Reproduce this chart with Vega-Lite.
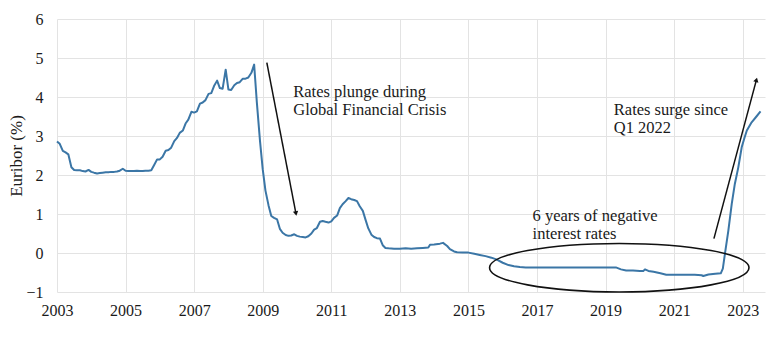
{
  "$schema": "https://vega.github.io/schema/vega-lite/v6.json",
  "width": 708,
  "height": 273,
  "autosize": "none",
  "padding": {"left": 57, "top": 19, "right": 15, "bottom": 62},
  "background": "white",
  "config": {
    "font": "Liberation Serif",
    "view": {"stroke": null},
    "axis": {
      "labelFont": "Liberation Serif",
      "titleFont": "Liberation Serif",
      "labelFontSize": 16,
      "titleFontSize": 17,
      "titleFontWeight": "normal",
      "labelColor": "#1a1a1a",
      "titleColor": "#1a1a1a",
      "gridColor": "#e3e3e3",
      "gridWidth": 1,
      "domain": false,
      "ticks": false,
      "labelFlush": false
    }
  },
  "datasets": {
    "euribor": [
      {"t": 2003.00, "v": 2.86}, {"t": 2003.08, "v": 2.80}, {"t": 2003.17, "v": 2.62}, {"t": 2003.25, "v": 2.58},
      {"t": 2003.33, "v": 2.53}, {"t": 2003.42, "v": 2.20}, {"t": 2003.50, "v": 2.13}, {"t": 2003.58, "v": 2.12},
      {"t": 2003.67, "v": 2.12}, {"t": 2003.75, "v": 2.10}, {"t": 2003.83, "v": 2.09}, {"t": 2003.92, "v": 2.13},
      {"t": 2004.00, "v": 2.08}, {"t": 2004.08, "v": 2.06}, {"t": 2004.17, "v": 2.04}, {"t": 2004.25, "v": 2.05},
      {"t": 2004.33, "v": 2.06}, {"t": 2004.42, "v": 2.07}, {"t": 2004.50, "v": 2.07}, {"t": 2004.58, "v": 2.08},
      {"t": 2004.67, "v": 2.08}, {"t": 2004.75, "v": 2.09}, {"t": 2004.83, "v": 2.11}, {"t": 2004.92, "v": 2.16},
      {"t": 2005.00, "v": 2.11}, {"t": 2005.08, "v": 2.10}, {"t": 2005.17, "v": 2.10}, {"t": 2005.25, "v": 2.10},
      {"t": 2005.33, "v": 2.11}, {"t": 2005.42, "v": 2.10}, {"t": 2005.50, "v": 2.10}, {"t": 2005.58, "v": 2.11},
      {"t": 2005.67, "v": 2.11}, {"t": 2005.75, "v": 2.12}, {"t": 2005.83, "v": 2.25}, {"t": 2005.92, "v": 2.40},
      {"t": 2006.00, "v": 2.40}, {"t": 2006.08, "v": 2.47}, {"t": 2006.17, "v": 2.62}, {"t": 2006.25, "v": 2.64},
      {"t": 2006.33, "v": 2.70}, {"t": 2006.42, "v": 2.87}, {"t": 2006.50, "v": 2.95}, {"t": 2006.58, "v": 3.08},
      {"t": 2006.67, "v": 3.14}, {"t": 2006.75, "v": 3.32}, {"t": 2006.83, "v": 3.42}, {"t": 2006.92, "v": 3.62},
      {"t": 2007.00, "v": 3.60}, {"t": 2007.08, "v": 3.63}, {"t": 2007.17, "v": 3.83}, {"t": 2007.25, "v": 3.86},
      {"t": 2007.33, "v": 3.92}, {"t": 2007.42, "v": 4.08}, {"t": 2007.50, "v": 4.10}, {"t": 2007.58, "v": 4.28},
      {"t": 2007.67, "v": 4.42}, {"t": 2007.75, "v": 4.23}, {"t": 2007.83, "v": 4.21}, {"t": 2007.92, "v": 4.70},
      {"t": 2008.00, "v": 4.19}, {"t": 2008.08, "v": 4.18}, {"t": 2008.17, "v": 4.30}, {"t": 2008.25, "v": 4.36},
      {"t": 2008.33, "v": 4.38}, {"t": 2008.42, "v": 4.47}, {"t": 2008.50, "v": 4.47}, {"t": 2008.58, "v": 4.50},
      {"t": 2008.67, "v": 4.62}, {"t": 2008.75, "v": 4.83}, {"t": 2008.83, "v": 3.85}, {"t": 2008.92, "v": 2.88},
      {"t": 2009.00, "v": 2.15}, {"t": 2009.08, "v": 1.60}, {"t": 2009.17, "v": 1.22}, {"t": 2009.25, "v": 0.95},
      {"t": 2009.33, "v": 0.90}, {"t": 2009.42, "v": 0.86}, {"t": 2009.50, "v": 0.62}, {"t": 2009.58, "v": 0.52},
      {"t": 2009.67, "v": 0.46}, {"t": 2009.75, "v": 0.44}, {"t": 2009.83, "v": 0.45}, {"t": 2009.92, "v": 0.48},
      {"t": 2010.00, "v": 0.44}, {"t": 2010.08, "v": 0.42}, {"t": 2010.17, "v": 0.41}, {"t": 2010.25, "v": 0.40},
      {"t": 2010.33, "v": 0.43}, {"t": 2010.42, "v": 0.50}, {"t": 2010.50, "v": 0.60}, {"t": 2010.58, "v": 0.64},
      {"t": 2010.67, "v": 0.80}, {"t": 2010.75, "v": 0.82}, {"t": 2010.83, "v": 0.80}, {"t": 2010.92, "v": 0.78},
      {"t": 2011.00, "v": 0.81}, {"t": 2011.08, "v": 0.90}, {"t": 2011.17, "v": 0.96}, {"t": 2011.25, "v": 1.15},
      {"t": 2011.33, "v": 1.25}, {"t": 2011.42, "v": 1.33}, {"t": 2011.50, "v": 1.41}, {"t": 2011.58, "v": 1.38},
      {"t": 2011.67, "v": 1.36}, {"t": 2011.75, "v": 1.33}, {"t": 2011.83, "v": 1.20}, {"t": 2011.92, "v": 1.08},
      {"t": 2012.00, "v": 0.85}, {"t": 2012.08, "v": 0.63}, {"t": 2012.17, "v": 0.47}, {"t": 2012.25, "v": 0.41},
      {"t": 2012.33, "v": 0.38}, {"t": 2012.42, "v": 0.37}, {"t": 2012.50, "v": 0.20}, {"t": 2012.58, "v": 0.13},
      {"t": 2012.67, "v": 0.12}, {"t": 2012.83, "v": 0.11}, {"t": 2013.00, "v": 0.11}, {"t": 2013.17, "v": 0.12},
      {"t": 2013.33, "v": 0.11}, {"t": 2013.50, "v": 0.12}, {"t": 2013.67, "v": 0.13}, {"t": 2013.83, "v": 0.14},
      {"t": 2013.88, "v": 0.21}, {"t": 2014.00, "v": 0.22}, {"t": 2014.17, "v": 0.24}, {"t": 2014.26, "v": 0.26},
      {"t": 2014.38, "v": 0.18}, {"t": 2014.46, "v": 0.10}, {"t": 2014.58, "v": 0.04}, {"t": 2014.67, "v": 0.02},
      {"t": 2014.83, "v": 0.01}, {"t": 2015.00, "v": 0.01}, {"t": 2015.17, "v": -0.02}, {"t": 2015.33, "v": -0.05},
      {"t": 2015.50, "v": -0.08}, {"t": 2015.67, "v": -0.12}, {"t": 2015.83, "v": -0.17}, {"t": 2016.00, "v": -0.25},
      {"t": 2016.17, "v": -0.31}, {"t": 2016.33, "v": -0.34}, {"t": 2016.50, "v": -0.36}, {"t": 2016.67, "v": -0.37},
      {"t": 2017.00, "v": -0.37}, {"t": 2017.50, "v": -0.37}, {"t": 2018.00, "v": -0.37}, {"t": 2018.50, "v": -0.37},
      {"t": 2019.00, "v": -0.37}, {"t": 2019.30, "v": -0.37}, {"t": 2019.45, "v": -0.42}, {"t": 2019.60, "v": -0.45},
      {"t": 2019.80, "v": -0.45}, {"t": 2020.00, "v": -0.46}, {"t": 2020.10, "v": -0.46}, {"t": 2020.15, "v": -0.42},
      {"t": 2020.25, "v": -0.46}, {"t": 2020.40, "v": -0.48}, {"t": 2020.60, "v": -0.52}, {"t": 2020.77, "v": -0.56},
      {"t": 2021.00, "v": -0.56}, {"t": 2021.30, "v": -0.56}, {"t": 2021.60, "v": -0.56}, {"t": 2021.80, "v": -0.57},
      {"t": 2021.85, "v": -0.59}, {"t": 2022.00, "v": -0.55}, {"t": 2022.20, "v": -0.53}, {"t": 2022.36, "v": -0.52},
      {"t": 2022.42, "v": -0.40}, {"t": 2022.48, "v": -0.03}, {"t": 2022.58, "v": 0.57}, {"t": 2022.68, "v": 1.26},
      {"t": 2022.77, "v": 1.77}, {"t": 2022.87, "v": 2.19}, {"t": 2022.97, "v": 2.71}, {"t": 2023.05, "v": 2.95},
      {"t": 2023.12, "v": 3.14}, {"t": 2023.26, "v": 3.35}, {"t": 2023.40, "v": 3.50}, {"t": 2023.52, "v": 3.63}
    ],
    "arrows": [
      {"id": "gfc", "t": 2009.12, "v": 4.88, "t2": 2009.97, "v2": 1.01},
      {"id": "surge", "t": 2022.16, "v": 0.37, "t2": 2023.40, "v2": 4.44}
    ],
    "labels": [
      {"t": 2009.89, "v": 4.01, "label": ["Rates plunge during", "Global Financial Crisis"]},
      {"t": 2019.24, "v": 3.54, "label": ["Rates surge since", "Q1 2022"]},
      {"t": 2016.87, "v": 0.83, "label": ["6 years of negative", "interest rates"]}
    ],
    "ellipse": [
      {"t": 2019.40, "v": -0.377}
    ]
  },
  "encoding": {
    "x": {
      "field": "t",
      "type": "quantitative",
      "scale": {"domain": [2003, 2023.65], "nice": false, "zero": false},
      "axis": {
        "title": null,
        "values": [2003, 2005, 2007, 2009, 2011, 2013, 2015, 2017, 2019, 2021, 2023],
        "format": "d",
        "labelPadding": 10,
        "grid": true
      }
    },
    "y": {
      "field": "v",
      "type": "quantitative",
      "scale": {"domain": [-1, 6], "nice": false, "zero": false},
      "axis": {
        "title": "Euribor (%)",
        "values": [-1, 0, 1, 2, 3, 4, 5, 6],
        "format": "d",
        "labelPadding": 14,
        "titlePadding": 0,
        "grid": true
      }
    }
  },
  "layer": [
    {
      "data": {"name": "euribor"},
      "mark": {"type": "line", "color": "#3b76a6", "strokeWidth": 2, "strokeJoin": "round"}
    },
    {
      "data": {"name": "arrows"},
      "mark": {"type": "rule", "color": "#111111", "strokeWidth": 1.5},
      "encoding": {
        "x2": {"field": "t2"},
        "y2": {"field": "v2"}
      }
    },
    {
      "data": {"name": "arrows"},
      "transform": [{"filter": "datum.id === 'gfc'"}],
      "mark": {"type": "point", "shape": "triangle-up", "filled": true, "color": "#111111", "size": 28, "angle": 169, "opacity": 1},
      "encoding": {
        "x": {"field": "t2", "type": "quantitative"},
        "y": {"field": "v2", "type": "quantitative"}
      }
    },
    {
      "data": {"name": "arrows"},
      "transform": [{"filter": "datum.id === 'surge'"}],
      "mark": {"type": "point", "shape": "triangle-up", "filled": true, "color": "#111111", "size": 28, "angle": 15, "opacity": 1},
      "encoding": {
        "x": {"field": "t2", "type": "quantitative"},
        "y": {"field": "v2", "type": "quantitative"}
      }
    },
    {
      "data": {"name": "ellipse"},
      "mark": {
        "type": "point",
        "shape": "M-1,0A1,0.187 0 1,1 1,0A1,0.187 0 1,1 -1,0Z",
        "filled": false,
        "stroke": "#111111",
        "strokeWidth": 1.6,
        "size": 67300,
        "opacity": 1
      }
    },
    {
      "data": {"name": "labels"},
      "mark": {
        "type": "text",
        "align": "left",
        "baseline": "alphabetic",
        "font": "Liberation Serif",
        "fontSize": 16.5,
        "lineHeight": 18,
        "color": "#1a1a1a"
      },
      "encoding": {
        "text": {"field": "label"}
      }
    }
  ]
}
